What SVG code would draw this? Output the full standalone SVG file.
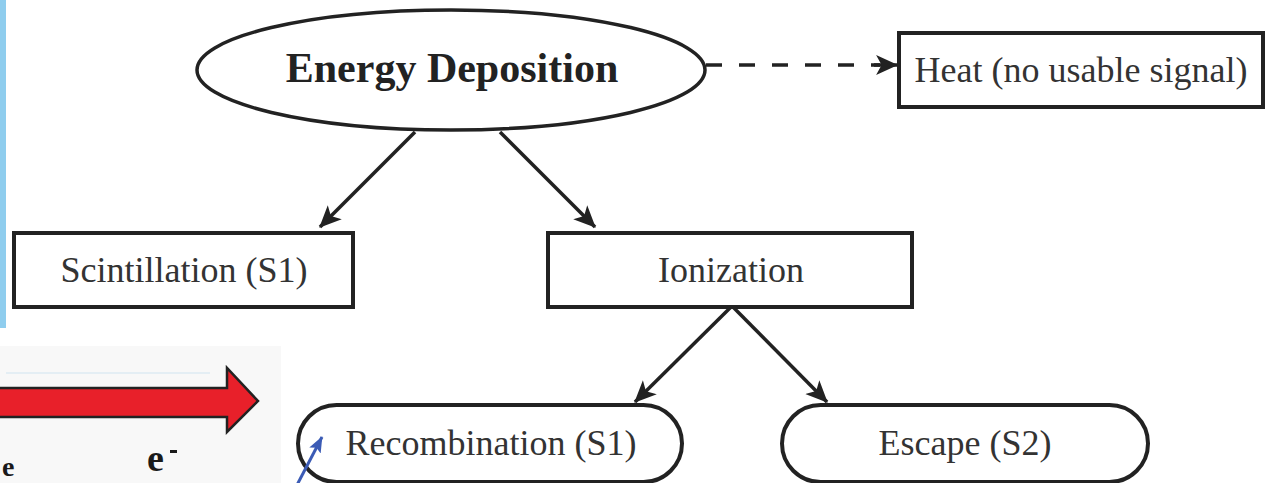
<svg xmlns="http://www.w3.org/2000/svg" width="1274" height="483" viewBox="0 0 1274 483">
  <style>
    .box { fill: #ffffff; stroke: #222222; stroke-width: 4; }
    .lbl { font-family: "Liberation Serif", "Times New Roman", serif; font-size: 36px; fill: #333333; text-anchor: middle; }
    .title { font-family: "Liberation Serif", "Times New Roman", serif; font-size: 42px; font-weight: bold; fill: #222222; text-anchor: middle; }
    .conn { stroke: #222222; stroke-width: 3.5; fill: none; }
    .ebold { font-family: "Liberation Serif", "Times New Roman", serif; font-weight: bold; fill: #1a1a1a; }
  </style>
  <defs>
    <marker id="ah" viewBox="0 0 20 20" refX="19" refY="10" markerWidth="22" markerHeight="22" markerUnits="userSpaceOnUse" orient="auto">
      <path d="M0,1 L20,10 L0,19 L5,10 z" fill="#222222"/>
    </marker>
    <marker id="ahb" viewBox="0 0 20 20" refX="19" refY="10" markerWidth="16" markerHeight="16" markerUnits="userSpaceOnUse" orient="auto">
      <path d="M0,2 L20,10 L0,18 L4,10 z" fill="#3b5bb5"/>
    </marker>
  </defs>

  <rect x="0" y="0" width="1274" height="483" fill="#ffffff"/>

  <!-- decorative left bar and pasted image fragment -->
  <rect x="0" y="0" width="6" height="328" fill="#8fcdee"/>
  <rect x="0" y="346" width="281" height="137" fill="#f8f8f8"/>
  <line x1="6" y1="373" x2="210" y2="373" stroke="#e4eef4" stroke-width="2"/>
  <polygon points="-2,388 227,388 227,368 258,401 227,432 227,417 -2,417" fill="#e8202a" stroke="#222222" stroke-width="2.5"/>
  <text class="ebold" x="2" y="476" font-size="28">e</text>
  <text class="ebold" x="147" y="471" font-size="38">e</text>
  <rect x="170" y="450" width="7" height="3" fill="#1a1a1a"/>

  <g id="connectors">
    <line class="conn" x1="415" y1="132" x2="320" y2="227" marker-end="url(#ah)"/>
    <line class="conn" x1="500" y1="132" x2="595" y2="227" marker-end="url(#ah)"/>
    <line class="conn" x1="731" y1="307" x2="635" y2="402" marker-end="url(#ah)"/>
    <line class="conn" x1="733" y1="307" x2="827" y2="402" marker-end="url(#ah)"/>
    <line class="conn" x1="706" y1="65" x2="880" y2="65" stroke-dasharray="16 17"/>
    <line class="conn" x1="874" y1="65" x2="897" y2="65" marker-end="url(#ah)"/>
  </g>

  <g id="energy-deposition">
    <ellipse cx="451" cy="70" rx="254" ry="60" fill="#ffffff" stroke="#222222" stroke-width="3.5"/>
    <text class="title" x="452" y="82">Energy Deposition</text>
  </g>

  <g id="heat">
    <rect class="box" x="899" y="33" width="364" height="74"/>
    <text class="lbl" x="1081" y="82">Heat (no usable signal)</text>
  </g>

  <g id="scintillation">
    <rect class="box" x="14" y="233" width="339" height="74"/>
    <text class="lbl" x="184" y="282">Scintillation (S1)</text>
  </g>

  <g id="ionization">
    <rect class="box" x="548" y="233" width="364" height="74"/>
    <text class="lbl" x="731" y="282">Ionization</text>
  </g>

  <g id="recombination">
    <rect class="box" x="298" y="405" width="384" height="77" rx="38.5" ry="38.5"/>
    <text class="lbl" x="491" y="455">Recombination (S1)</text>
  </g>

  <g id="escape">
    <rect class="box" x="782" y="405" width="366" height="77" rx="38.5" ry="38.5"/>
    <text class="lbl" x="965" y="455">Escape (S2)</text>
  </g>

  <g id="pointer">
    <line x1="297" y1="485" x2="322" y2="437" stroke="#3b5bb5" stroke-width="3" marker-end="url(#ahb)"/>
  </g>
</svg>
